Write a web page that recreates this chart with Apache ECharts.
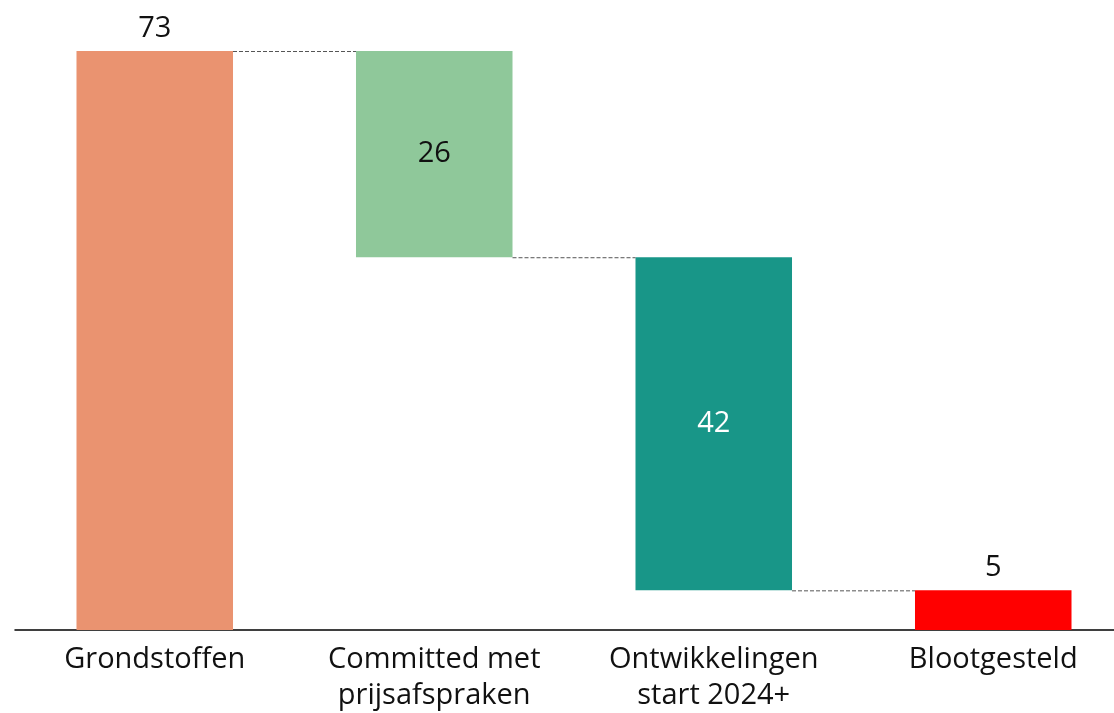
<!DOCTYPE html>
<html>
<head>
<meta charset="utf-8">
<title>Waterfall</title>
<script src="https://cdn.jsdelivr.net/npm/echarts@6/dist/echarts.min.js"></script>
<style>
  html, body { margin: 0; padding: 0; background: #ffffff; }
  #chart { width: 1114px; height: 713px; }
</style>
</head>
<body>
<div id="chart"></div>
<script>
// Categories and step values of the waterfall
const categories = ['Grondstoffen', 'Committed met\nprijsafspraken', 'Ontwikkelingen\nstart 2024+', 'Blootgesteld'];
const values = [73, 26, 42, 5];
const kinds = ['total', 'down', 'down', 'total'];
const colors = ['#EA9370', '#8FC89A', '#189688', '#FF0000'];
const labelColors = ['#111111', '#111111', '#ffffff', '#111111'];

// Invisible base under each bar, derived from the running level
const bases = [];
let level = 0;
values.forEach((v, i) => {
  if (kinds[i] === 'total') {
    bases.push(0);
    level = v;
  } else {
    level -= v;
    bases.push(level);
  }
});
// Connector level between bar i and bar i+1
const connectors = [];
for (let i = 0; i < values.length - 1; i++) {
  const top = kinds[i] === 'total' ? values[i] : bases[i];
  connectors.push([i, top]);
}

const BAR_FRACTION = 0.56;
const FONT = '"Open Sans", Lato, sans-serif';

const chart = echarts.init(document.getElementById('chart'), null, { renderer: 'canvas' });
chart.setOption({
  animation: false,
  backgroundColor: '#ffffff',
  grid: { left: 15, width: 1118, top: 51, bottom: 83, containLabel: false, outerBoundsMode: 'none' },
  xAxis: {
    type: 'category',
    data: categories,
    axisLine: { show: true, lineStyle: { color: '#000000', width: 1.5 } },
    axisTick: { show: false },
    axisLabel: {
      color: '#111111',
      fontFamily: FONT,
      fontSize: 29,
      lineHeight: 36,
      margin: 12,
      interval: 0
    }
  },
  yAxis: {
    type: 'value',
    min: 0,
    max: 73,
    show: false,
    splitLine: { show: false }
  },
  series: [
    {
      type: 'bar',
      stack: 'wf',
      barWidth: (BAR_FRACTION * 100) + '%',
      itemStyle: { color: 'transparent' },
      emphasis: { disabled: true },
      data: bases
    },
    {
      type: 'bar',
      stack: 'wf',
      barWidth: (BAR_FRACTION * 100) + '%',
      emphasis: { disabled: true },
      data: values.map((v, i) => ({
        value: v,
        itemStyle: { color: colors[i] },
        label: {
          show: true,
          position: kinds[i] === 'total' ? 'top' : 'inside',
          distance: 8,
          color: labelColors[i],
          fontFamily: FONT,
          fontSize: 29
        }
      }))
    },
    {
      type: 'custom',
      z: 5,
      data: connectors,
      renderItem: function (params, api) {
        const p = api.coord([api.value(0), api.value(1)]);
        const bw = api.size([1, 0])[0];
        const half = bw * BAR_FRACTION / 2;
        return {
          type: 'line',
          shape: { x1: p[0] + half, y1: p[1] + 0.5, x2: p[0] + bw - half, y2: p[1] + 0.5 },
          style: { stroke: '#555555', lineWidth: 1, lineDash: [4, 2] }
        };
      }
    }
  ]
});
</script>
</body>
</html>
